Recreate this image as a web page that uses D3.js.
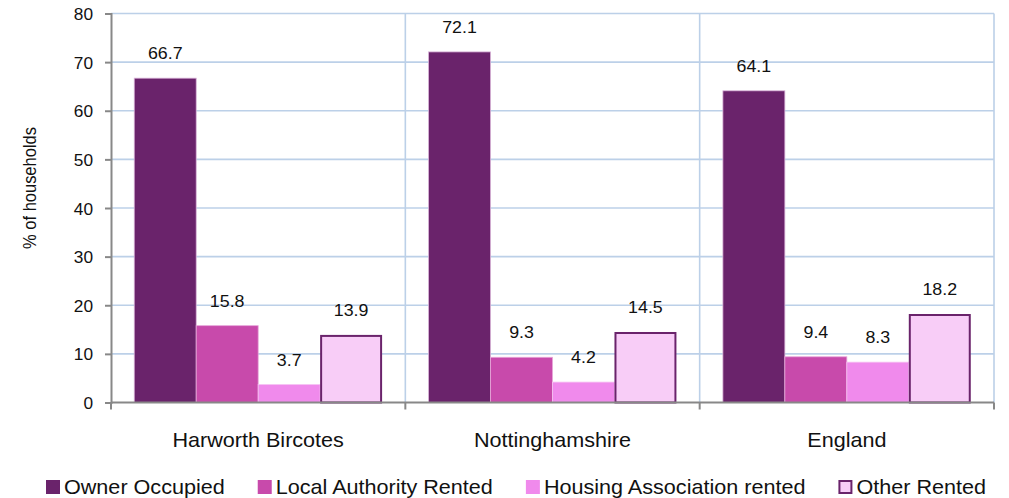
<!DOCTYPE html>
<html>
<head>
<meta charset="utf-8">
<script src="https://cdn.jsdelivr.net/npm/d3@7"></script>
<style>
  html, body { margin: 0; padding: 0; background: #ffffff; }
  svg { display: block; }
  text { font-family: "Liberation Sans", Arial, sans-serif; fill: #111; }
</style>
</head>
<body>
<svg id="chart" width="1009" height="498"></svg>
<script>
// Household tenure, % of households
const categories = ["Harworth Bircotes", "Nottinghamshire", "England"];
const seriesNames = ["Owner Occupied", "Local Authority Rented", "Housing Association rented", "Other Rented"];
const ownerOccupied = [66.7, 72.1, 64.1];
const localAuthorityRented = [15.8, 9.3, 9.4];
const housingAssociationRented = [3.7, 4.2, 8.3];
const otherRented = [13.9, 14.5, 18.2];
const yTicks = [0, 10, 20, 30, 40, 50, 60, 70, 80];

const seriesValues = [ownerOccupied, localAuthorityRented, housingAssociationRented, otherRented];
const fills = ["#6a236b", "#c84aab", "#f08aec", "#f8cdf7"];
const strokes = ["#d9b3d8", "#e7a6d9", "#f6c2f3", "#6a236b"];
const strokeWidths = [0.8, 0.8, 0.8, 2];

const svg = d3.select("#chart");
const sx = 1.08; // text is set slightly wide

const plot = { left: 111, right: 994, top: 13.5, bottom: 402.5 };

const y = d3.scaleLinear().domain([0, 80]).range([plot.bottom, plot.top]);
const x0 = d3.scaleBand().domain(categories).range([plot.left, plot.right]).padding(0);
const x1 = d3.scaleBand().domain(seriesNames).range([0, x0.bandwidth()])
  .paddingInner(0).paddingOuter(0.375);

const grid = "#bcd0e8";
const axisColor = "#888888";

// horizontal gridlines
svg.append("g").selectAll("line").data(yTicks.filter(t => t > 0)).join("line")
  .attr("x1", plot.left).attr("x2", plot.right)
  .attr("y1", d => y(d)).attr("y2", d => y(d))
  .attr("stroke", grid).attr("stroke-width", 1.6);

// vertical gridlines at category boundaries
const boundaries = categories.map(c => x0(c) + x0.bandwidth());
svg.append("g").selectAll("line").data(boundaries).join("line")
  .attr("x1", d => d).attr("x2", d => d)
  .attr("y1", plot.top).attr("y2", plot.bottom)
  .attr("stroke", grid).attr("stroke-width", 1.6);

// bars
const rows = categories.map((c, i) => ({
  category: c,
  values: seriesNames.map((s, j) => ({ series: s, idx: j, value: seriesValues[j][i] }))
}));

const groups = svg.append("g").selectAll("g").data(rows).join("g")
  .attr("transform", d => `translate(${x0(d.category)},0)`);

groups.selectAll("rect").data(d => d.values).join("rect")
  .attr("x", d => x1(d.series) + (d.idx === 3 ? 1 : 0))
  .attr("width", d => x1.bandwidth() - (d.idx === 3 ? 2 : 0))
  .attr("y", d => y(d.value) + (d.idx === 3 ? 1 : 0))
  .attr("height", d => y(0) - y(d.value) - (d.idx === 3 ? 1 : 0))
  .attr("fill", d => fills[d.idx])
  .attr("stroke", d => strokes[d.idx])
  .attr("stroke-width", d => strokeWidths[d.idx]);

// value labels
groups.selectAll("text").data(d => d.values).join("text")
  .attr("transform", d => `translate(${x1(d.series) + x1.bandwidth() / 2},${y(d.value) - 19}) scale(${sx},1)`)
  .attr("text-anchor", "middle")
  .style("font-size", "16.5px")
  .text(d => d.value.toFixed(1));

// y axis
const yAxis = d3.axisLeft(y).tickValues(yTicks).tickSize(6).tickPadding(0).tickFormat(d3.format("d"));
const gy = svg.append("g").attr("transform", `translate(${plot.left},0)`).call(yAxis);
gy.select(".domain").attr("stroke", axisColor).attr("stroke-width", 2);
gy.selectAll(".tick line").attr("stroke", axisColor).attr("stroke-width", 2);
gy.selectAll(".tick text")
  .attr("x", null).attr("dy", null)
  .attr("transform", `translate(-18,6) scale(${sx},1)`)
  .attr("text-anchor", "end")
  .style("font-size", "16px")
  .style("font-family", "'Liberation Sans', Arial, sans-serif")
  .attr("fill", "#111");

// x axis line with ticks at category boundaries
const xTickPositions = [plot.left].concat(boundaries);
svg.append("line")
  .attr("x1", plot.left).attr("x2", plot.right)
  .attr("y1", plot.bottom).attr("y2", plot.bottom)
  .attr("stroke", axisColor).attr("stroke-width", 2);
svg.append("g").selectAll("line").data(xTickPositions).join("line")
  .attr("x1", d => d).attr("x2", d => d)
  .attr("y1", plot.bottom).attr("y2", plot.bottom + 7)
  .attr("stroke", axisColor).attr("stroke-width", 2);

// category labels
svg.append("g").selectAll("text").data(categories).join("text")
  .attr("transform", d => `translate(${x0(d) + x0.bandwidth() / 2},447) scale(${sx},1)`)
  .attr("text-anchor", "middle")
  .style("font-size", "20px")
  .text(d => d);

// y axis title
svg.append("text")
  .attr("transform", `translate(36,188) rotate(-90) scale(1,${sx})`)
  .attr("text-anchor", "middle")
  .style("font-size", "16.5px")
  .text("% of households");

// legend
const legend = svg.append("g");
let lx = 46;
seriesNames.forEach((name, j) => {
  legend.append("rect")
    .attr("x", lx + (j === 3 ? 1 : 0)).attr("y", 480 + (j === 3 ? 1 : 0))
    .attr("width", 14 - (j === 3 ? 2 : 0)).attr("height", 14 - (j === 3 ? 2 : 0))
    .attr("fill", fills[j])
    .attr("stroke", j === 3 ? strokes[j] : "none")
    .attr("stroke-width", 2);
  const t = legend.append("text")
    .attr("transform", `translate(${lx + 18},494) scale(${sx},1)`)
    .style("font-size", "20px")
    .text(name);
  const w = t.node().getComputedTextLength() * sx;
  lx += 18 + w + 33;
});
</script>
</body>
</html>
